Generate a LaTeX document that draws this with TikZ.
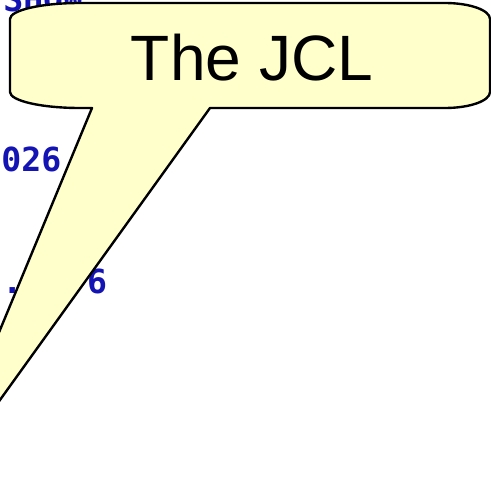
\documentclass[tikz,border=0pt]{standalone}
\usepackage{xcolor}
\usepackage{fontspec}
\setmainfont{Liberation Sans}
\newfontfamily\listingfont{DejaVu Sans Mono}
\usepackage{tikz}
\definecolor{JCLYellow}{HTML}{FFFFCC}
\definecolor{JCLBlue}{HTML}{1414B4}
\definecolor{JCLLine}{HTML}{000000}

\begin{document}
\begin{tikzpicture}[x=1cm,y=1cm]
\path[use as bounding box] (0,0) rectangle (12.275,12.60);
\clip (0,0) rectangle (12.275,12.60);
\fill[white] (0,0) rectangle (12.275,12.60);
% listing underneath
\node[anchor=base west,inner sep=0pt] (lineA) at (0.075,12.30) {\listingfont\bfseries\fontsize{23.6}{24}\selectfont\color{JCLBlue} SHOW};
\node[anchor=base west,inner sep=0pt] (lineB) at (0.03,8.30) {\listingfont\bfseries\fontsize{23.6}{24}\selectfont\color{JCLBlue} 026};
\node[anchor=base west,inner sep=0pt] (lineCa) at (0.05,5.275) {\listingfont\bfseries\fontsize{23.6}{24}\selectfont\color{JCLBlue} .};
\node[anchor=base west,inner sep=0pt] (lineCb) at (2.17,5.275) {\listingfont\bfseries\fontsize{23.6}{24}\selectfont\color{JCLBlue} 6};
% callout
\filldraw[fill=JCLYellow,draw=JCLLine,line width=1.7pt,line join=round]
  (5.25,9.90) -- (11.125,9.90)
  arc[start angle=270,end angle=360,x radius=1.125,y radius=0.40] -- (12.25,12.125)
  arc[start angle=0,end angle=90,x radius=1.125,y radius=0.40] -- (2.00,12.525)
  arc[start angle=90,end angle=180,x radius=1.75,y radius=0.40] -- (0.25,10.30)
  arc[start angle=180,end angle=270,x radius=1.75,y radius=0.40] -- (2.30,9.90)
  -- (-1.71,0.225) -- cycle;
\node[anchor=base,inner sep=0pt] (jcl) at (6.30,10.60) {\fontsize{45.6}{48}\selectfont The JCL};
\end{tikzpicture}
\end{document}
